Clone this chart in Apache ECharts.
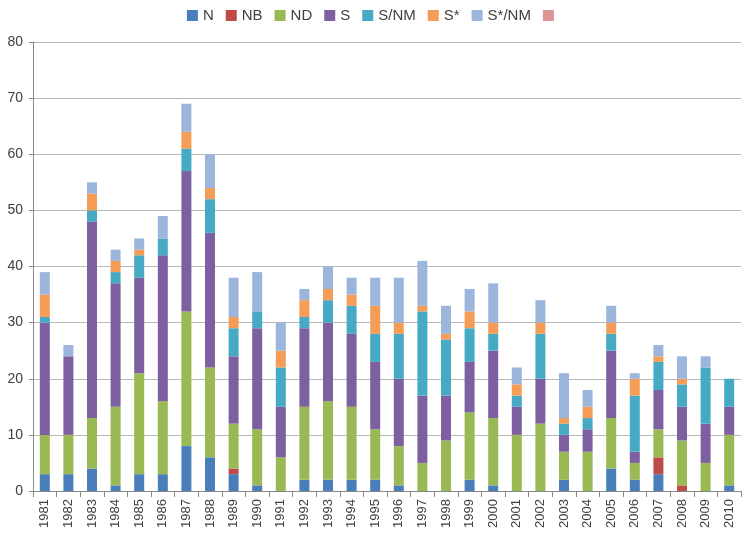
<!DOCTYPE html>
<html><head><meta charset="utf-8">
<script src="https://cdn.jsdelivr.net/npm/echarts@6/dist/echarts.min.js"></script>
<style>html,body{margin:0;padding:0;background:#fff}#c{width:750px;height:538px}</style>
</head><body><div id="c"></div>
<script>
const years = ['1981','1982','1983','1984','1985','1986','1987','1988','1989','1990','1991','1992','1993','1994','1995','1996','1997','1998','1999','2000','2001','2002','2003','2004','2005','2006','2007','2008','2009','2010'];
const seriesNames = ['N','NB','ND','S','S/NM','S*','S*/NM',' '];
const N     = [3,3,4,1,3,3,8,6,3,1,0,2,2,2,2,1,0,0,2,1,0,0,2,0,4,2,3,0,0,1];
const NB    = [0,0,0,0,0,0,0,0,1,0,0,0,0,0,0,0,0,0,0,0,0,0,0,0,0,0,3,1,0,0];
const ND    = [7,7,9,14,18,13,24,16,8,10,6,13,14,13,9,7,5,9,12,12,10,12,5,7,9,3,5,8,5,9];
const S     = [20,14,35,22,17,26,25,24,12,18,9,14,14,13,12,12,12,8,9,12,5,8,3,4,12,2,7,6,7,5];
const S_NM  = [1,0,2,2,4,3,4,6,5,3,7,2,4,5,5,8,15,10,6,3,2,8,2,2,3,10,5,4,10,5];
const Sstar = [4,0,3,2,1,0,3,2,2,0,3,3,2,2,5,2,1,1,3,2,2,2,1,2,2,3,1,1,0,0];
const Sstar_NM = [4,2,2,2,2,4,5,6,7,7,5,2,4,3,5,8,8,5,4,7,3,4,8,3,3,1,2,4,2,0];
const Empty = [];
const yTicks = {min:0, max:80, interval:10};
const colors = ['#4a7ebb','#be4b48','#98b954','#7d60a0','#46aac5','#f59d56','#9cb5dc','#d99694'];
const dataSets = [N,NB,ND,S,S_NM,Sstar,Sstar_NM,Empty];

const chart = echarts.init(document.getElementById('c'));
const font = 'Liberation Sans, Arial, sans-serif';
chart.setOption({
  animation:false,
  color: colors,
  legend:{
    top:3, left:'center', itemWidth:11, itemHeight:11, itemGap:12,
    icon:'rect',
    textStyle:{fontSize:15, color:'#404040', fontFamily:font},
    data: seriesNames
  },
  grid:{left:33, right:9, top:42, bottom:47, containLabel:false},
  xAxis:{
    type:'category', data: years,
    axisLine:{lineStyle:{color:'#888'}},
    axisTick:{show:true, interval:0, length:6, lineStyle:{color:'#888'}},
    axisLabel:{rotate:90, interval:0, fontSize:13, color:'#404040', fontFamily:font, margin:8}
  },
  yAxis:{
    type:'value', min:yTicks.min, max:yTicks.max, interval:yTicks.interval,
    axisLine:{show:true, lineStyle:{color:'#888'}},
    axisTick:{show:true, length:4, lineStyle:{color:'#888'}},
    splitLine:{lineStyle:{color:'#b8b8b8'}},
    axisLabel:{fontSize:14, color:'#404040', fontFamily:font, margin:10}
  },
  series: seriesNames.map((n,i)=>({
    name:n, type:'bar', stack:'t', barWidth:10, data: dataSets[i]
  }))
});
</script></body></html>
